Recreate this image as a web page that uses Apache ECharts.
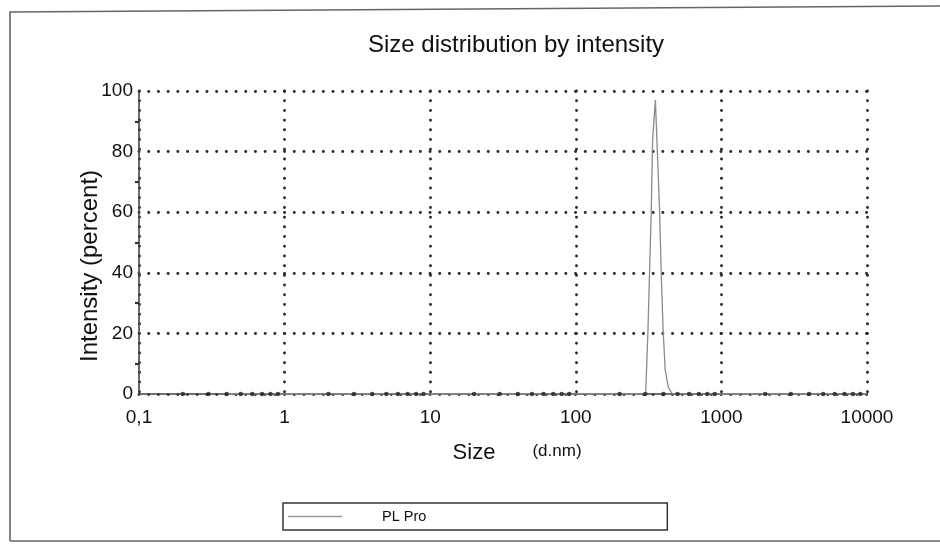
<!DOCTYPE html>
<html>
<head>
<meta charset="utf-8">
<script src="https://cdn.jsdelivr.net/npm/echarts@6/dist/echarts.min.js"></script>
<style>
html,body{margin:0;padding:0;background:#fff;}
#chart{width:940px;height:547px;}
</style>
</head>
<body>
<div id="chart"></div>
<script>
// Size (d.nm) and intensity (%)
const sizes = [0.4, 302, 313, 321, 330, 337, 352, 376, 386, 398, 411, 433, 461, 10000];
const intensity = [0, 0, 21, 40, 61, 84, 97, 61, 40, 21, 8, 2, 0, 0];
const seriesName = 'PL Pro';
// minor tick positions on the size axis
const minorTicks = [0.2,0.3,0.4,0.5,0.6,0.7,0.8,0.9,
  2,3,4,5,6,7,8,9,
  20,30,40,50,60,70,80,90,
  200,300,400,500,600,700,800,900,
  2000,3000,4000,5000,6000,7000,8000,9000];
const yTicks = [0, 20, 40, 60, 80, 100];

const FONT = '"Liberation Sans", Arial, sans-serif';
const dotted = {type: [0.1, 9.6], cap: 'round', width: 2.9, color: '#2a2a2a'};

const chart = echarts.init(document.getElementById('chart'), null, {renderer: 'canvas'});
chart.setOption({
  animation: false,
  backgroundColor: '#fff',
  textStyle: {fontFamily: FONT},
  grid: {left: 139, right: 73, top: 91, bottom: 153, containLabel: false},
  xAxis: {
    type: 'log', logBase: 10, min: 0.1, max: 10000,
    axisLine: {show: true, lineStyle: {color: '#444', width: 1.6}},
    axisTick: {show: false},
    axisLabel: {
      fontSize: 19, color: '#111', margin: 14, fontFamily: FONT,
      formatter: v => String(v).replace('.', ',')
    },
    splitLine: {show: true, lineStyle: dotted}
  },
  yAxis: {
    type: 'value', min: yTicks[0], max: yTicks[yTicks.length - 1], interval: 20,
    axisLine: {show: true, lineStyle: {color: '#444', width: 1.6}},
    axisTick: {show: false},
    minorTick: {show: true, splitNumber: 2, length: 4, lineStyle: {color: '#333', width: 2.2}},
    axisLabel: {fontSize: 19, color: '#111', margin: 6, fontFamily: FONT},
    splitLine: {show: true, lineStyle: dotted}
  },
  legend: {
    left: 283, top: 503,
    padding: [6, 241, 6, 5],
    borderColor: '#333', borderWidth: 1.5, borderRadius: 0,
    itemWidth: 54, itemHeight: 1.5,
    textStyle: {fontSize: 14.5, color: '#111', fontFamily: FONT, padding: [0, 0, 0, 35]},
    data: [{name: seriesName, icon: 'rect', itemStyle: {color: '#999'}}]
  },
  series: [
    {
      name: 'minor', type: 'scatter', silent: true, z: 4,
      symbol: 'circle', symbolSize: 4.6,
      itemStyle: {color: '#222'},
      data: minorTicks.map(s => [s, 0])
    },
    {
      name: seriesName, type: 'line', z: 3,
      showSymbol: false, symbol: 'none',
      lineStyle: {color: '#8a8a8a', width: 1.3},
      data: sizes.map((s, i) => [s, intensity[i]])
    }
  ],
  graphic: [
    {type: 'polyline', silent: true, shape: {points: [[10, 541], [10, 12], [940, 6]]},
     style: {stroke: '#666', lineWidth: 1.6, fill: null}},
    {type: 'line', silent: true, shape: {x1: 10, y1: 541, x2: 940, y2: 541},
     style: {stroke: '#666', lineWidth: 1.6}},
    {type: 'text', x: 516, y: 45, style: {text: 'Size distribution by intensity', font: '24px ' + FONT, fill: '#111', align: 'center', verticalAlign: 'middle'}},
    {type: 'text', x: 90, y: 266, rotation: Math.PI / 2, style: {text: 'Intensity (percent)', font: '24px ' + FONT, fill: '#111', align: 'center', verticalAlign: 'middle'}},
    {type: 'text', x: 474, y: 453, style: {text: 'Size', font: '22px ' + FONT, fill: '#111', align: 'center', verticalAlign: 'middle'}},
    {type: 'text', x: 557, y: 451, style: {text: '(d.nm)', font: '17px ' + FONT, fill: '#111', align: 'center', verticalAlign: 'middle'}}
  ]
});
</script>
</body>
</html>
